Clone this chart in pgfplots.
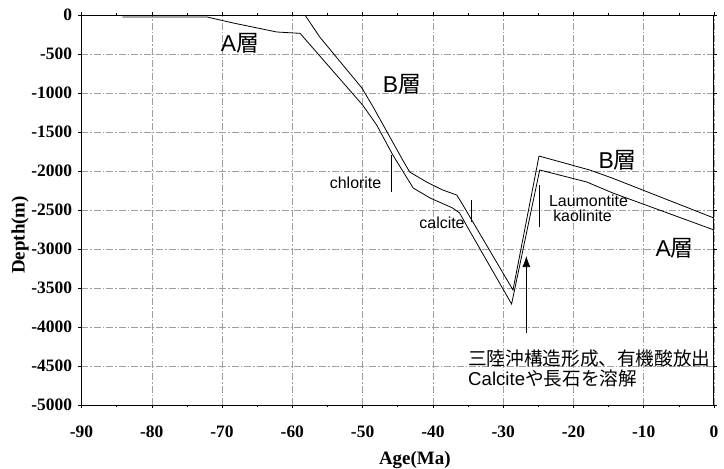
\documentclass[border=0pt]{standalone}
\usepackage{fontspec}
\setmainfont{Liberation Serif}
\newfontfamily\lsans{Liberation Sans}
\newfontfamily\cjk{Noto Sans CJK JP}
\usepackage{pgfplots}
\pgfplotsset{compat=1.18}
\usetikzlibrary{arrows.meta}
\begin{document}
\begin{tikzpicture}
\path[use as bounding box] (-81.5bp,-64bp) rectangle (642.5bp,405bp);
\begin{axis}[
  at={(0,0)}, anchor=south west,
  scale only axis, width=632.5bp, height=390bp,
  xmin=-90, xmax=0, ymin=-5000, ymax=0,
  xtick={-90,-80,...,0}, ytick={-5000,-4500,...,0},
  minor x tick num=1,
  grid=major,
  major grid style={gray!75, dash pattern=on 7bp off 2bp on 1.5bp off 2bp, line width=0.5bp},
  axis line style={black, line width=1bp},
  tick align=outside, major tick length=3bp, minor tick length=2bp,
  tick style={black, line width=0.5bp},
  /pgf/number format/assume math mode=true,
  /pgf/number format/1000 sep={},
  ticklabel style={font=\fontsize{17.5}{20}\selectfont\bfseries},
  yticklabel style={xshift=-3bp},
  xticklabel style={yshift=-14bp},
  xlabel={Age(Ma)}, ylabel={Depth(m)},
  label style={font=\fontsize{19}{22}\selectfont\bfseries},
  xlabel style={at={(rel axis cs:0.527,-0.141)}, anchor=center},
  ylabel style={at={(rel axis cs:-0.097,0.436)}, anchor=center},
  clip=false,
]
% upper line
\addplot[black, line width=0.8bp, mark=none] coordinates {
(-58.2,0) (-56.1,-282) (-50.1,-936) (-48.5,-1179) (-44.3,-1859) (-43.3,-2013)
(-40.9,-2141) (-38.6,-2244) (-36.6,-2308) (-35.9,-2410) (-28.6,-3526)
(-24.9,-1808) (-17.7,-1987) (-14.5,-2090) (0,-2603)
};
% lower line
\addplot[black, line width=0.8bp, mark=none] coordinates {
(-84.2,-26) (-72.1,-26) (-68.4,-103) (-62.2,-218) (-58.9,-235) (-50.0,-1154)
(-48.0,-1410) (-45.7,-1795) (-42.8,-2218) (-40.4,-2346) (-37.2,-2474)
(-36.2,-2538) (-35.0,-2731) (-28.8,-3705) (-24.8,-1987) (-18.1,-2141)
(-14.4,-2282) (0,-2756)
};
% marker lines
\addplot[black, line width=0.6bp, mark=none] coordinates {(-45.9,-1795) (-45.9,-2265)};
\addplot[black, line width=0.6bp, mark=none] coordinates {(-34.5,-2372) (-34.5,-2650)};
\addplot[black, line width=0.6bp, mark=none] coordinates {(-24.8,-2180) (-24.8,-2714)};
% arrow
\draw[black, line width=0.6bp, -{Latex[length=11bp,width=8bp]}] (axis cs:-26.7,-4077) -- (axis cs:-26.7,-3090);
% labels
\node[font=\fontsize{23}{26}\selectfont] at (axis cs:-67.45,-359) {{\lsans A}{\cjk 層}};
\node[font=\fontsize{23}{26}\selectfont] at (axis cs:-44.4,-885) {{\lsans B}{\cjk 層}};
\node[font=\fontsize{23}{26}\selectfont] at (axis cs:-13.7,-1859) {{\lsans B}{\cjk 層}};
\node[font=\fontsize{23}{26}\selectfont] at (axis cs:-5.6,-2987) {{\lsans A}{\cjk 層}};
\node[font=\lsans\fontsize{16}{19}\selectfont] at (axis cs:-51.0,-2154) {chlorite};
\node[font=\lsans\fontsize{16}{19}\selectfont] at (axis cs:-38.7,-2667) {calcite};
\node[font=\lsans\fontsize{16}{19}\selectfont, anchor=west, inner sep=0pt] at (axis cs:-23.5,-2385) {Laumontite};
\node[font=\lsans\fontsize{16}{19}\selectfont, anchor=west, inner sep=0pt] at (axis cs:-22.9,-2577) {kaolinite};
\node[font=\cjk\fontsize{18.7}{20}\selectfont, anchor=west, inner sep=0pt] at (axis cs:-35.0,-4397) {三陸沖構造形成、有機酸放出};
\node[font=\fontsize{18.7}{20}\selectfont, anchor=west, inner sep=0pt] at (axis cs:-35.0,-4654) {{\lsans Calcite}{\cjk や長石を溶解}};
\end{axis}
\end{tikzpicture}
\end{document}
